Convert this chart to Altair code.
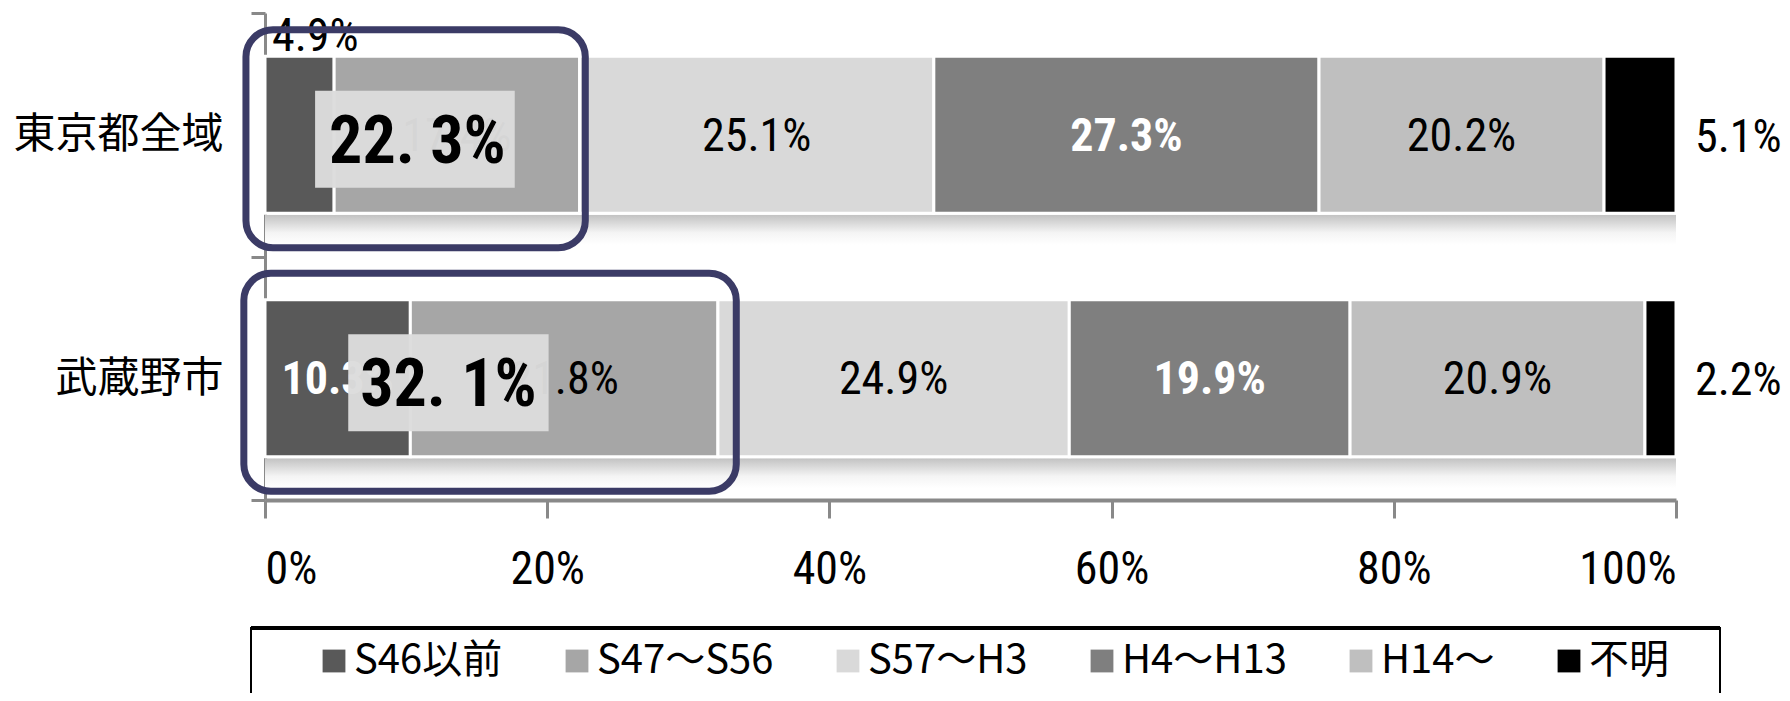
import altair as alt
import pandas as pd

# ---- data ----
categories = ["東京都全域", "武蔵野市"]
periods = ["S46以前", "S47～S56", "S57～H3", "H4～H13", "H14～", "不明"]
tokyo_values = [4.9, 17.4, 25.1, 27.3, 20.2, 5.1]
musashino_values = [10.3, 21.8, 24.9, 19.9, 20.9, 2.2]
period_colors = ["#595959", "#a6a6a6", "#d9d9d9", "#7f7f7f", "#bfbfbf", "#000000"]
dark_periods = ["S46以前", "H4～H13"]
x_ticks = [0, 20, 40, 60, 80, 100]

# highlight annotations (old buildings up to S56): box extents in % units
hl_box_x = [3.55, 5.9]
hl_box_x2 = [17.7, 20.1]
hl_text_x = [10.8, 13.0]
hl_outline_x = [-1.35, -1.5]
hl_outline_x2 = [22.7, 33.4]

NUM_FONT = "Liberation Sans Narrow, Roboto Condensed, DejaVu Sans Condensed, Liberation Sans, sans-serif"
JP_FONT = "Noto Sans CJK JP"
LEG_FONT = "Liberation Sans Narrow, Noto Sans CJK JP, sans-serif"

rows = []
for cat, vals in zip(categories, [tokyo_values, musashino_values]):
    start = 0.0
    for i, (p, v) in enumerate(zip(periods, vals)):
        end = start + v
        if p == "不明":
            place = "right"
        elif v < 6:
            place = "above"
        elif p in dark_periods:
            place = "dark"
        else:
            place = "light"
        rows.append(dict(category=cat, period=p, order=i, value=v,
                         start=start, end=end, mid=(start + end) / 2,
                         label=f"{v:.1f}%", place=place))
        start = end
df = pd.DataFrame(rows)

ann = pd.DataFrame({
    "category": categories,
    "total": [round(tokyo_values[0] + tokyo_values[1], 1),
              round(musashino_values[0] + musashino_values[1], 1)],
    "bx": hl_box_x, "bx2": hl_box_x2, "tx": hl_text_x,
    "ox": hl_outline_x, "ox2": hl_outline_x2,
})
ann["text"] = ann["total"].map(lambda t: f"{t:.1f}%".replace(".", ". "))

frame_df = pd.DataFrame({"k": [1]})
shadow_df = pd.DataFrame({"category": categories, "a": [0, 0], "b": [100, 100]})

W, H = 1411, 487
BAR_H = 157
xscale = alt.Scale(domain=[0, 100], nice=False, zero=True)
yscale = alt.Scale(domain=categories, paddingInner=0, paddingOuter=0)

x_axis = alt.Axis(values=x_ticks, labelExpr="datum.value + '%'", grid=False, title=None,
                  domainColor="#898989", domainWidth=4, tickColor="#898989", tickWidth=3,
                  tickSize=18, labelFont=NUM_FONT, labelFontSize=46, labelColor="black",
                  labelPadding=29)
y_axis = alt.Axis(title=None, labelFont=JP_FONT, labelFontSize=42, labelColor="black",
                  labelLimit=0, domainColor="#898989", domainWidth=3, tickColor="#898989",
                  tickWidth=3, tickSize=14, tickBand="extent", labelPadding=28)

X = lambda f: alt.X(f"{f}:Q", scale=xscale, axis=x_axis)
Y = alt.Y("category:N", scale=yscale, axis=y_axis, sort=categories)

gradient = alt.Gradient(gradient="linear",
                        stops=[alt.GradientStop(color="#c2c2c2", offset=0),
                               alt.GradientStop(color="#f4f4f4", offset=0.6),
                               alt.GradientStop(color="#ffffff", offset=1)],
                        x1=0, x2=0, y1=0, y2=1)

shadow = alt.Chart(shadow_df).mark_bar(height=30, yOffset=95, fill=gradient).encode(
    x=X("a"), x2="b", y=Y)

bars = alt.Chart(df).mark_bar(height=BAR_H, stroke="white", strokeWidth=3).encode(
    x=X("start"), x2="end", y=Y,
    color=alt.Color("period:N", scale=alt.Scale(domain=periods, range=period_colors),
                    legend=alt.Legend(orient="none", legendX=49, legendY=628,
                                      direction="horizontal", title=None,
                                      labelFont=LEG_FONT, labelFontSize=40, labelColor="black",
                                      labelLimit=0, labelOffset=0, columnPadding=54, padding=0,
                                      symbolType="square", symbolSize=520,
                                      symbolStrokeWidth=0, symbolOpacity=1)),
    order=alt.Order("order:Q"))

base_txt = alt.Chart(df)
light_txt = base_txt.transform_filter("datum.place == 'light'").mark_text(
    font=NUM_FONT, fontSize=46, color="black", baseline="middle", align="center", dy=2
).encode(x=X("mid"), y=Y, text="label:N")
dark_txt = base_txt.transform_filter("datum.place == 'dark'").mark_text(
    font=NUM_FONT, fontSize=46, fontWeight="bold", color="white", baseline="middle",
    align="center", dy=2
).encode(x=X("mid"), y=Y, text="label:N")
above_txt = base_txt.transform_filter("datum.place == 'above'").mark_text(
    font=NUM_FONT, fontSize=46, color="black", baseline="middle", align="left", dx=7, dy=-98
).encode(x=X("start"), y=Y, text="label:N")
right_txt = base_txt.transform_filter("datum.place == 'right'").mark_text(
    font=NUM_FONT, fontSize=46, color="black", baseline="middle", align="left", dx=19, dy=3
).encode(x=X("end"), y=Y, text="label:N")

hl_box = alt.Chart(ann).mark_bar(height=97, yOffset=4.5, color="#dcdcdc", opacity=0.97).encode(
    x=X("bx"), x2="bx2", y=Y)
hl_text = alt.Chart(ann).mark_text(font=NUM_FONT, fontSize=66, fontWeight="bold", color="black",
                                   baseline="middle", align="center", dy=8).encode(
    x=X("tx"), y=Y, text="text:N")
hl_outline = alt.Chart(ann).mark_bar(height=218, yOffset=4, fillOpacity=0, stroke="#3b3b66",
                                     strokeWidth=7, cornerRadius=27).encode(
    x=X("ox"), x2="ox2", y=Y)

legend_frame = alt.Chart(frame_df).mark_rect(fillOpacity=0, stroke="black", strokeWidth=2).encode(
    x=alt.value(-14), x2=alt.value(1455), y=alt.value(615), y2=alt.value(710))
legend_top = alt.Chart(frame_df).mark_rule(color="black", strokeWidth=4).encode(
    x=alt.value(-14), x2=alt.value(1455), y=alt.value(615))

chart = alt.layer(shadow, bars, light_txt, dark_txt, above_txt, right_txt,
                  hl_box, hl_text, hl_outline, legend_frame, legend_top).properties(
    width=W, height=H,
    autosize=alt.AutoSizeParams(type="none"),
    padding={"left": 257, "top": 5, "right": 106, "bottom": 193},
).configure_view(stroke=None)

chart.save("out.html", embed_options={"renderer": "svg", "actions": False})
